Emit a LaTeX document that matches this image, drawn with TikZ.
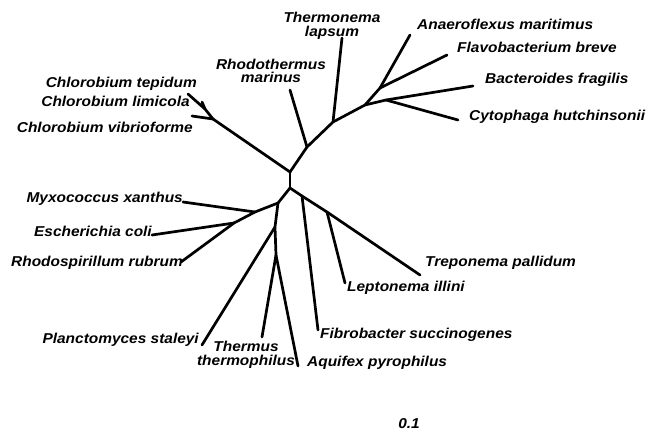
\documentclass[tikz,border=0pt]{standalone}
\usepackage{fontspec}
\setmainfont{Liberation Sans}[FakeStretch=1.08]
\begin{document}
\begin{tikzpicture}[x=1pt,y=-1pt,
  br/.style={line width=2.7pt, line cap=round, line join=round},
  lbl/.style={font=\fontsize{14.3}{13.5}\selectfont\bfseries\itshape, inner sep=0pt, align=center}]
\useasboundingbox (0,0) rectangle (651,436);
% internal nodes
\coordinate (N1) at (290,172);
\coordinate (N2) at (290,188);
\coordinate (Chl) at (213,119);
\coordinate (CL) at (205,109);
\coordinate (R) at (307,147);
\coordinate (T) at (333,122);
\coordinate (A) at (365,105);
\coordinate (C) at (380,88);
\coordinate (B) at (386,100);
\coordinate (L) at (278,203);
\coordinate (M) at (255,212);
\coordinate (E) at (234,223);
\coordinate (P) at (275,227);
\coordinate (Q) at (276,255);
\coordinate (F) at (302,196);
\coordinate (Lj) at (327,212);
% tips
\coordinate (tTep) at (188,94);
\coordinate (tLim) at (202,102);
\coordinate (tVib) at (192,116);
\coordinate (tRho) at (290,90);
\coordinate (tThn) at (342,38);
\coordinate (tAna) at (410,35);
\coordinate (tFla) at (447,55);
\coordinate (tBac) at (473,86);
\coordinate (tCyt) at (458,120);
\coordinate (tMyx) at (183,202);
\coordinate (tEco) at (152,235);
\coordinate (tRsp) at (181,262);
\coordinate (tPla) at (202,345);
\coordinate (tThm) at (262,337);
\coordinate (tAqu) at (298,366);
\coordinate (tFib) at (318,330);
\coordinate (tLep) at (345,283);
\coordinate (tTre) at (420,275);
% branches
\draw[br] (N1) -- (N2);
\draw[br] (N1) -- (Chl);
\draw[br] (Chl) -- (tVib);
\draw[br] (Chl) -- (CL) -- (tTep);
\draw[br] (CL) -- (tLim);
\draw[br] (N1) -- (R) -- (T) -- (A) -- (B) -- (tBac);
\draw[br] (R) -- (tRho);
\draw[br] (T) -- (tThn);
\draw[br] (A) -- (C) -- (tAna);
\draw[br] (C) -- (tFla);
\draw[br] (B) -- (tCyt);
\draw[br] (N2) -- (L) -- (M) -- (E) -- (tRsp);
\draw[br] (M) -- (tMyx);
\draw[br] (E) -- (tEco);
\draw[br] (L) -- (P) -- (Q) -- (tAqu);
\draw[br] (P) -- (tPla);
\draw[br] (Q) -- (tThm);
\draw[br] (N2) -- (F) -- (Lj) -- (tTre);
\draw[br] (F) -- (tFib);
\draw[br] (Lj) -- (tLep);
% labels
\node[lbl, anchor=east] (lTep) at (197,84) {Chlorobium tepidum};
\node[lbl, anchor=east] (lLim) at (190,101) {Chlorobium limicola};
\node[lbl, anchor=east] (lVib) at (193,127) {Chlorobium vibrioforme};
\node[lbl, anchor=east] (lMyx) at (183,199) {Myxococcus xanthus};
\node[lbl, anchor=east] (lEco) at (152,231) {Escherichia coli};
\node[lbl, anchor=east] (lRsp) at (183,263) {Rhodospirillum rubrum};
\node[lbl, anchor=east] (lPla) at (199,340) {Planctomyces staleyi};
\node[lbl, anchor=west] (lAna) at (417,24) {Anaeroflexus maritimus};
\node[lbl, anchor=west] (lFla) at (457,47) {Flavobacterium breve};
\node[lbl, anchor=west] (lBac) at (485,80) {Bacteroides fragilis};
\node[lbl, anchor=west] (lCyt) at (469,117) {Cytophaga hutchinsonii};
\node[lbl, anchor=west] (lTre) at (425,263) {Treponema pallidum};
\node[lbl, anchor=west] (lLep) at (347,288) {Leptonema illini};
\node[lbl, anchor=west] (lFib) at (320,335) {Fibrobacter succinogenes};
\node[lbl, anchor=west] (lAqu) at (307,363) {Aquifex pyrophilus};
\node[lbl] (lThn) at (332,26) {Thermonema\\lapsum};
\node[lbl] (lRho) at (271,71) {Rhodothermus\\marinus};
\node[lbl] (lThm) at (246,355) {Thermus\\thermophilus};
\node[lbl] (lScale) at (409,424) {0.1};
\end{tikzpicture}
\end{document}
